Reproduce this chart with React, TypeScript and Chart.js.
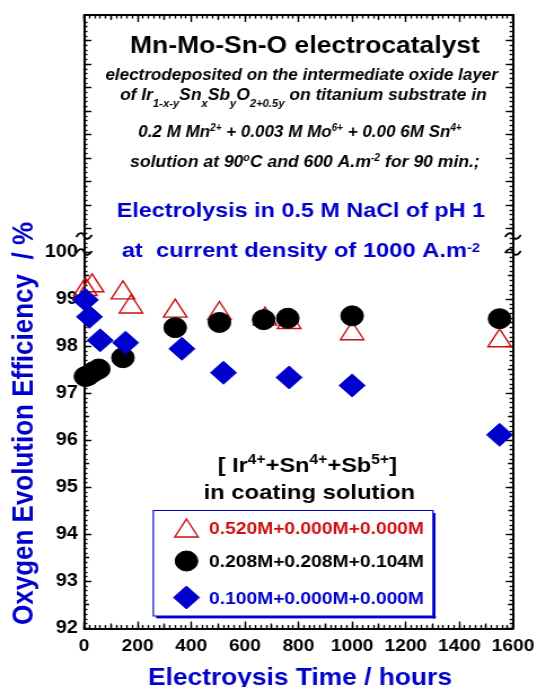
import React, { useEffect, useRef } from 'react';
import { Chart, registerables } from 'chart.js';
import { drawPoint } from 'chart.js/helpers';

Chart.register(...registerables);

// ---------------- data ----------------
const seriesLabels = ['0.520M+0.000M+0.000M', '0.208M+0.208M+0.104M', '0.100M+0.000M+0.000M'];
const timesA = [5, 30, 145, 175, 340, 505, 675, 765, 1000, 1550];
const effA = [99.21, 99.29, 99.14, 98.84, 98.75, 98.7, 98.58, 98.51, 98.27, 98.12];
const timesB = [5, 15, 35, 55, 145, 340, 505, 670, 760, 1000, 1550];
const effB = [97.36, 97.38, 97.46, 97.52, 97.76, 98.4, 98.51, 98.57, 98.6, 98.65, 98.59];
const timesC = [5, 20, 60, 155, 365, 520, 765, 1000, 1550];
const effC = [98.99, 98.63, 98.13, 98.08, 97.95, 97.44, 97.34, 97.17, 96.12];
const xRange = [0, 1600];
const yRange = [92, 105.05];
const yLabelMax = 100;

type Seg = { t: string; k?: 'sub' | 'sup' };
const titleLine1: Seg[] = [{ t: 'Mn-Mo-Sn-O electrocatalyst' }];
const titleLine2: Seg[] = [{ t: 'electrodeposited on the intermediate oxide layer' }];
const titleLine3: Seg[] = [
  { t: 'of Ir' }, { t: '1-x-y', k: 'sub' }, { t: 'Sn' }, { t: 'x', k: 'sub' }, { t: 'Sb' }, { t: 'y', k: 'sub' },
  { t: 'O' }, { t: '2+0.5y', k: 'sub' }, { t: ' on titanium substrate in' },
];
const titleLine4: Seg[] = [
  { t: '0.2 M Mn' }, { t: '2+', k: 'sup' }, { t: ' + 0.003 M Mo' }, { t: '6+', k: 'sup' }, { t: ' + 0.00 6M Sn' }, { t: '4+', k: 'sup' },
];
const titleLine5: Seg[] = [
  { t: 'solution at 90' }, { t: 'o', k: 'sup' }, { t: 'C and 600 A.m' }, { t: '-2', k: 'sup' }, { t: ' for 90 min.;' },
];
const titleLine6: Seg[] = [{ t: 'Electrolysis in 0.5 M NaCl of pH 1' }];
const titleLine7: Seg[] = [{ t: 'at  current density of 1000 A.m' }, { t: '-2', k: 'sup' }];
const legendTitle1: Seg[] = [
  { t: '[ Ir' }, { t: '4+', k: 'sup' }, { t: '+Sn' }, { t: '4+', k: 'sup' }, { t: '+Sb' }, { t: '5+', k: 'sup' }, { t: ']' },
];
const legendTitle2: Seg[] = [{ t: 'in coating solution' }];
const xAxisTitle = 'Electroysis Time / hours';
const yAxisTitle = 'Oxygen Evolution Efficiency  / %';

// ---------------- styling ----------------
const FONT = "'Liberation Sans', Arial, Helvetica, sans-serif";
const BLUE = '#0000CC';
const RED = '#CC1010';
const STRETCH = 537 / 476;
const W = 476;
const H = 687;
const NONE = 'rgba(0,0,0,0)';
const TICK_W = 1.4;

interface RichOpts {
  size: number; style: string; color: string;
  subSize?: number; subDy?: number; supSize?: number; supDy?: number;
}

function drawRich(ctx: CanvasRenderingContext2D, segs: Seg[], x: number, baseline: number, width: number,
  align: 'left' | 'center', o: RichOpts) {
  ctx.save();
  const fontFor = (k?: string) =>
    `${o.style} ${k === 'sub' ? o.subSize : k === 'sup' ? o.supSize : o.size}px ${FONT}`;
  let total = 0;
  const ws: number[] = [];
  for (const s of segs) {
    ctx.font = fontFor(s.k);
    const w = ctx.measureText(s.t).width;
    ws.push(w);
    total += w;
  }
  const sx = width / total;
  const x0 = align === 'center' ? x - width / 2 : x;
  ctx.translate(x0, baseline);
  ctx.scale(sx, 1);
  ctx.fillStyle = o.color;
  ctx.textBaseline = 'alphabetic';
  ctx.textAlign = 'left';
  let cx = 0;
  segs.forEach((s, i) => {
    ctx.font = fontFor(s.k);
    const dy = s.k === 'sub' ? (o.subDy || 0) : s.k === 'sup' ? (o.supDy || 0) : 0;
    ctx.fillText(s.t, cx, dy);
    cx += ws[i];
  });
  ctx.restore();
}

function tilde(ctx: CanvasRenderingContext2D, x: number, y: number) {
  const w = 7, a = 3;
  ctx.beginPath();
  ctx.moveTo(x - w, y + 1);
  ctx.bezierCurveTo(x - w * 0.5, y - a * 1.6, x - w * 0.1, y - a, x, y);
  ctx.bezierCurveTo(x + w * 0.1, y + a, x + w * 0.5, y + a * 1.6, x + w, y - 1);
  ctx.stroke();
}

const isMult = (v: number, step: number) => Math.abs(v / step - Math.round(v / step)) < 1e-6;

const overlayPlugin = {
  id: 'overlayPlugin',
  afterDatasetsDraw(chart: any) {
    const ctx: CanvasRenderingContext2D = chart.ctx;
    const xs = chart.scales.x;
    const left = xs.getPixelForValue(xRange[0]);
    const right = xs.getPixelForValue(xRange[1]);
    ctx.save();
    ctx.strokeStyle = '#000';
    ctx.lineWidth = 1.7;
    tilde(ctx, left, 236);
    tilde(ctx, left, 252);
    tilde(ctx, right, 236);
    tilde(ctx, right, 252);
    ctx.restore();

    const bi = { style: 'italic bold', color: '#000', size: 17 };
    drawRich(ctx, titleLine1, 270.3, 53.3, 310, 'center', { size: 23, style: 'bold', color: '#000' });
    drawRich(ctx, titleLine2, 267.4, 80, 348, 'center', bi);
    drawRich(ctx, titleLine3, 268.9, 100, 325, 'center', { ...bi, subSize: 11, subDy: 7 });
    drawRich(ctx, titleLine4, 265.9, 136.7, 286.7, 'center', { ...bi, supSize: 10, supDy: -6 });
    drawRich(ctx, titleLine5, 270.3, 166.7, 310, 'center', { ...bi, supSize: 10, supDy: -6 });
    drawRich(ctx, titleLine6, 266.7, 216.7, 326.5, 'center', { size: 21, style: 'bold', color: BLUE });
    drawRich(ctx, titleLine7, 266.7, 256.7, 317.6, 'center', { size: 21, style: 'bold', color: BLUE, supSize: 13, supDy: -5 });
    drawRich(ctx, legendTitle1, 272.4, 472, 159, 'center', { size: 21, style: 'bold', color: '#000', supSize: 14, supDy: -8 });
    drawRich(ctx, legendTitle2, 274.2, 498.7, 187.4, 'center', { size: 21, style: 'bold', color: '#000' });

    // legend box
    const bx1 = 135.9, bx2 = 383.8, by1 = 510.5, by2 = 616;
    ctx.save();
    ctx.strokeStyle = BLUE;
    ctx.fillStyle = BLUE;
    ctx.lineWidth = 1.2;
    ctx.beginPath();
    ctx.rect(bx1, by1, bx2 - bx1, by2 - by1);
    ctx.stroke();
    ctx.fillRect(bx2, by1 + 2.5, 2.2, by2 - by1);
    ctx.fillRect(bx1 + 2.5, by2, bx2 - bx1, 2.4);
    const rows = [528, 561, 597.5];
    const colors = [RED, '#000', BLUE];
    chart.data.datasets.forEach((ds: any, i: number) => {
      const y = rows[i];
      ctx.save();
      ctx.strokeStyle = ds.borderColor;
      ctx.fillStyle = ds.backgroundColor;
      ctx.lineWidth = ds.borderWidth;
      const dy = ds.pointStyle === 'triangle' ? 3 : 0;
      drawPoint(ctx, { pointStyle: ds.pointStyle, radius: ds.pointRadius, borderWidth: ds.borderWidth, rotation: 0 } as any, 165.3, y + dy);
      ctx.restore();
      drawRich(ctx, [{ t: ds.label }], 185.3, y + 6.3, 190.5, 'left', { size: 16, style: 'bold', color: colors[i] });
    });
    ctx.restore();

    // axis titles
    drawRich(ctx, [{ t: xAxisTitle }], 265.9, 685, 269.5, 'center', { size: 24, style: 'bold', color: BLUE });
    ctx.save();
    ctx.translate(29.3, 423.5);
    ctx.rotate(-Math.PI / 2);
    drawRich(ctx, [{ t: yAxisTitle }], 0, 0, 403, 'center', { size: 25.5, style: 'bold', color: BLUE });
    ctx.restore();
  },
};

const toPts = (xs: number[], ys: number[]) => xs.map((x, i) => ({ x, y: ys[i] }));
const zeroPad = (s: any) => { s.paddingLeft = 0; s.paddingRight = 0; s.paddingTop = 0; s.paddingBottom = 0; };

// Tick-mark-only scale (inward ticks via negative tick length)
function markScale(axis: 'x' | 'y', position: string, step: number, len: number,
  show: (v: number) => boolean, border: boolean, weight: number) {
  const range = axis === 'x' ? xRange : yRange;
  return {
    axis, position, type: 'linear', display: true, weight,
    min: range[0], max: range[1],
    ticks: { display: false, stepSize: step, autoSkip: false, maxRotation: 0 },
    grid: {
      display: true, drawOnChartArea: false, drawTicks: true, tickLength: -len, tickWidth: TICK_W,
      tickColor: (c: any) => (c.tick && show(c.tick.value) ? '#000' : NONE),
    },
    border: { display: border, color: '#000', width: 2 },
    afterFit: (s: any) => { if (axis === 'x') s.height = 0; else s.width = 0; zeroPad(s); },
  };
}

const yMajorShow = (v: number) => (v <= yLabelMax + 1e-6 ? isMult(v, 1) : isMult(v, 0.5));
const yMidShow = (v: number) => v <= yLabelMax + 1e-6 && isMult(v, 0.5) && !isMult(v, 1);
const yMinorShow = (v: number) => isMult(v, 0.1);
const xMajorShow = (v: number) => isMult(v, 200);
const xMidShow = (v: number) => isMult(v, 100) && !isMult(v, 200);
const xMinorShow = (v: number) => isMult(v, 20);

export default function App() {
  const ref = useRef<HTMLCanvasElement>(null);
  useEffect(() => {
    if (!ref.current) return;
    const tickFont = { family: FONT, size: 17, weight: 'bold' as const };
    const chart = new Chart(ref.current, {
      type: 'scatter',
      data: {
        datasets: [
          {
            label: seriesLabels[0], data: toPts(timesA, effA), pointStyle: 'triangle', pointRadius: 12,
            borderColor: RED, backgroundColor: 'rgba(255,255,255,0)', borderWidth: 1.4, order: 3, clip: false,
            xAxisID: 'x', yAxisID: 'y',
          } as any,
          {
            label: seriesLabels[1], data: toPts(timesB, effB), pointStyle: 'circle', pointRadius: 10,
            borderColor: '#000', backgroundColor: '#000', borderWidth: 1, order: 2, clip: false,
            xAxisID: 'x', yAxisID: 'y',
          } as any,
          {
            label: seriesLabels[2], data: toPts(timesC, effC), pointStyle: 'rectRot', pointRadius: 11.5,
            borderColor: BLUE, backgroundColor: BLUE, borderWidth: 1, order: 1, clip: false,
            xAxisID: 'x', yAxisID: 'y',
          } as any,
        ],
      },
      options: {
        responsive: false,
        animation: false,
        devicePixelRatio: 1,
        layout: { padding: { top: 15, right: W - 454.7, left: 0, bottom: 0 } },
        plugins: { legend: { display: false }, tooltip: { enabled: false }, title: { display: false } },
        scales: {
          x: {
            axis: 'x', position: 'bottom', type: 'linear', min: xRange[0], max: xRange[1], weight: 10,
            ticks: {
              stepSize: 200, font: tickFont, color: '#000', padding: 15, maxRotation: 0, autoSkip: false,
              callback: (v: any) => String(Math.round(Number(v))),
            },
            grid: {
              display: true, drawOnChartArea: false, drawTicks: true, tickLength: -7, tickWidth: TICK_W,
              tickColor: (c: any) => (c.tick && xMajorShow(c.tick.value) ? '#000' : NONE),
            },
            border: { display: true, color: '#000', width: 2 },
            afterFit: (s: any) => { s.height = H - 628.5; zeroPad(s); },
          },
          xMid: markScale('x', 'bottom', 100, 5, xMidShow, false, 0),
          xMinor: markScale('x', 'bottom', 20, 3.5, xMinorShow, false, 0),
          xTop: markScale('x', 'top', 200, 7, xMajorShow, true, 0),
          xTopMid: markScale('x', 'top', 100, 5, xMidShow, false, 0),
          xTopMinor: markScale('x', 'top', 20, 3.5, xMinorShow, false, 0),
          y: {
            axis: 'y', position: 'left', type: 'linear', min: yRange[0], max: yRange[1], weight: 10,
            ticks: {
              stepSize: 0.5, font: { ...tickFont, size: 17.5 }, color: '#000', padding: 12, autoSkip: false,
              callback: (v: any) => {
                const n = Number(v);
                return n <= yLabelMax + 1e-6 && isMult(n, 1) ? String(Math.round(n)) : '';
              },
            },
            grid: {
              display: true, drawOnChartArea: false, drawTicks: true, tickLength: -6.5, tickWidth: TICK_W,
              tickColor: (c: any) => (c.tick && yMajorShow(c.tick.value) ? '#000' : NONE),
            },
            border: { display: true, color: '#000', width: 2 },
            afterFit: (s: any) => { s.width = 74.5; zeroPad(s); },
          },
          yMid: markScale('y', 'left', 0.5, 4.5, yMidShow, false, 0),
          yMinor: markScale('y', 'left', 0.1, 3, yMinorShow, false, 0),
          yRight: markScale('y', 'right', 0.5, 6.5, yMajorShow, true, 0),
          yRightMid: markScale('y', 'right', 0.5, 4.5, yMidShow, false, 0),
          yRightMinor: markScale('y', 'right', 0.1, 3, yMinorShow, false, 0),
        } as any,
      },
      plugins: [overlayPlugin],
    });
    return () => chart.destroy();
  }, []);
  return (
    <div style={{ position: 'absolute', left: 0, top: 0, width: W, height: H, transform: `scaleX(${STRETCH})`, transformOrigin: '0 0' }}>
      <canvas ref={ref} width={W} height={H} style={{ display: 'block' }} />
    </div>
  );
}
